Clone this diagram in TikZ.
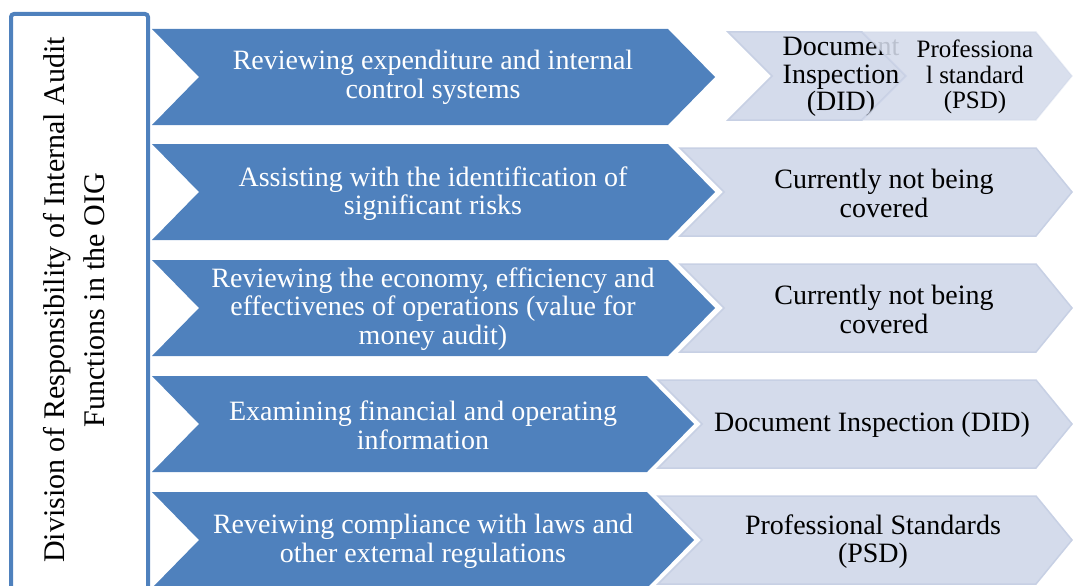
\documentclass[tikz,border=0pt]{standalone}
\usepackage{fontspec}
\setmainfont{Liberation Serif}
\definecolor{accent}{HTML}{4F81BD}
\definecolor{tint}{HTML}{D4DBEB}
\definecolor{tintline}{HTML}{C7D0E4}
% chevron: style, left x, top y, height, right corner x, notch depth, tip depth
\newcommand{\chevshape}[7]{%
  \path[#1] (#2,#3) -- (#5,#3) -- (#5+#7,#3+#4/2) -- (#5,#3+#4)
    -- (#2,#3+#4) -- (#2+#6,#3+#4/2) -- cycle;}
\begin{document}
\begin{tikzpicture}[x=1pt,y=-1pt,
  darkchev/.style={fill=accent},
  lightchev/.style={fill=tint, draw=tintline, line width=1.5pt, line join=miter},
  darktext/.style={text=white, align=center, inner sep=0pt, font=\fontsize{28}{28.5}\selectfont},
  lighttext/.style={text=black, align=center, inner sep=0pt, font=\fontsize{28}{28.5}\selectfont},
]
\useasboundingbox (0,0) rectangle (1073,586);
\clip (0,0) rectangle (1073,586);

% frame holding the vertical title
\draw[accent, line width=4pt, rounded corners=3pt] (11,14) rectangle (148,640);
\node[rotate=90, align=center, inner sep=0pt, font=\fontsize{30}{40}\selectfont] (title) at (74,300)
  {Division of Responsibility of Internal Audit\\Functions in the OIG};

% function chevrons
\chevshape{darkchev}{152}{29}{96}{668}{47}{47}
\chevshape{darkchev}{152}{144}{96}{668}{47}{47}
\chevshape{darkchev}{152}{260}{96}{668}{47}{47}
\chevshape{darkchev}{152}{376}{96}{647}{47}{47}
\chevshape{darkchev}{152}{492}{96}{647}{47}{47}

\node[darktext] (f1) at (433,77.5) {Reviewing expenditure and internal\\control systems};
\node[darktext] (f2) at (433,193.5) {Assisting with the identification of\\significant risks};
\node[darktext] (f3) at (433,309) {Reviewing the economy, efficiency and\\effectivenes of operations (value for\\money audit)};
\node[darktext] (f4) at (423,425.5) {Examining financial and operating\\information};
\node[darktext] (f5) at (423,541.5) {Reveiwing compliance with laws and\\other external regulations};

% responsible units
\chevshape{lightchev}{728}{32}{88}{862}{44}{44}
\node[lighttext, font=\fontsize{28}{27.5}\selectfont] (r1a) at (841,77) {Document\\Inspection\\(DID)};
\chevshape{lightchev, fill opacity=0.88, draw opacity=0.3}{862}{32}{88}{1036}{44}{36}
\node[lighttext, font=\fontsize{25}{25.5}\selectfont] (r1b) at (975,77) {Professiona\\l standard\\(PSD)};

\chevshape{lightchev}{680}{148}{88}{1036}{44}{36}
\chevshape{lightchev}{680}{264}{88}{1036}{44}{36}
\chevshape{lightchev}{658}{380}{88}{1036}{44}{36}
\chevshape{lightchev}{658}{496}{88}{1036}{44}{36}

\node[lighttext] (r2) at (884,193.5) {Currently not being\\covered};
\node[lighttext] (r3) at (884,309.5) {Currently not being\\covered};
\node[lighttext] (r4) at (872,425) {Document Inspection (DID)};
\node[lighttext] (r5) at (873,541.5) {Professional Standards\\(PSD)};
\end{tikzpicture}
\end{document}
